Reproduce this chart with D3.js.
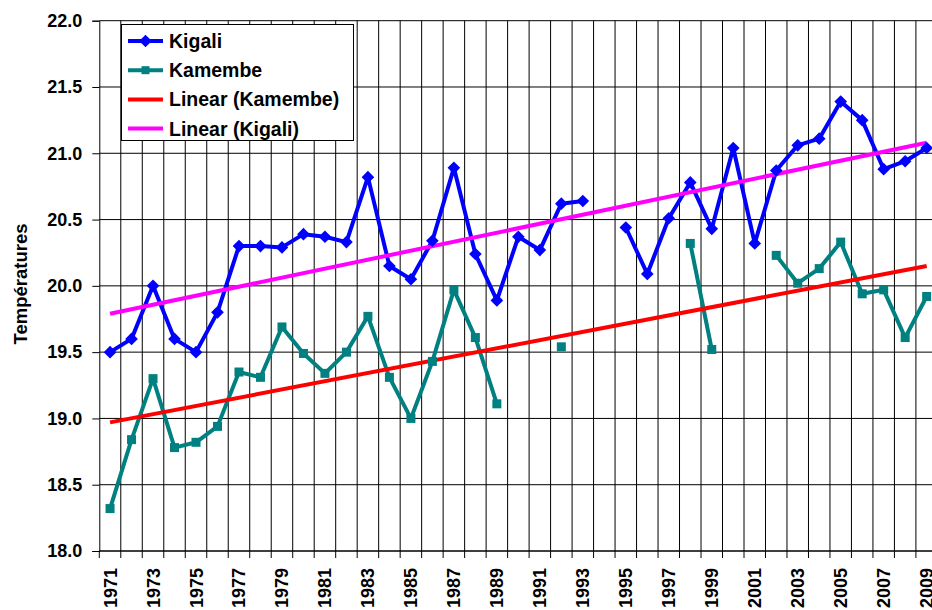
<!DOCTYPE html>
<meta charset="utf-8">
<title>Températures Kigali / Kamembe</title>
<style>
html, body { margin: 0; padding: 0; background: #fff; overflow: hidden; }
svg { display: block; }
.tick text, .label, .legend text {
  font-family: "Liberation Sans", Arial, Helvetica, sans-serif;
  font-weight: bold;
  fill: #000;
}
</style>
<svg width="932" height="610"></svg>
<script src="https://d3js.org/d3.v7.min.js"></script>
<script>

// years on the category axis
var years = d3.range(1971, 2010);

// annual mean temperatures (null = no data)
var kigali = [19.50, 19.60, 20.00, 19.60, 19.50, 19.80, 20.30, 20.30, 20.29, 20.39,
              20.37, 20.33, 20.82, 20.15, 20.05, 20.34, 20.89, 20.24, 19.89, 20.37,
              20.27, 20.62, 20.64, null, 20.44, 20.09, 20.51, 20.78, 20.43, 21.04,
              20.32, 20.87, 21.06, 21.11, 21.39, 21.25, 20.88, 20.94, 21.04];

var kamembe = [18.32, 18.84, 19.30, 18.78, 18.82, 18.94, 19.35, 19.31, 19.69, 19.49,
               19.34, 19.50, 19.77, 19.31, 19.00, 19.43, 19.97, 19.61, 19.11, null,
               null, 19.54, null, null, null, null, null, 20.32, 19.52, null,
               null, 20.23, 20.02, 20.13, 20.33, 19.94, 19.97, 19.61, 19.92];

// linear trend lines, start (1971) and end (2009) values
var trendYears = [1971, 2009];
var trendKamembe = [18.97, 20.15];
var trendKigali = [19.79, 21.08];

var yTicks = [18.0, 18.5, 19.0, 19.5, 20.0, 20.5, 21.0, 21.5, 22.0];
var labelYears = years.filter(function(y) { return y % 2 == 1; });

var svg = d3.select("svg");

var plotLeft = 99.3, band = 21.49, plotTop = 20.7, plotBottom = 551;

var x = d3.scaleBand()
    .domain(years)
    .range([plotLeft, plotLeft + band * years.length])
    .paddingInner(0).paddingOuter(0);

var y = d3.scaleLinear()
    .domain([18, 22])
    .range([plotBottom, plotTop]);

function cx(yr) { return x(yr) + x.bandwidth() / 2; }

// horizontal grid
svg.append("g")
  .selectAll("line")
  .data(yTicks)
  .enter().append("line")
    .attr("x1", plotLeft).attr("x2", 932)
    .attr("y1", function(d) { return y(d); })
    .attr("y2", function(d) { return y(d); })
    .attr("stroke", "#000")
    .attr("stroke-width", 1);

// vertical grid at category boundaries
svg.append("g")
  .selectAll("line")
  .data(years.slice(1))
  .enter().append("line")
    .attr("x1", function(d) { return x(d); })
    .attr("x2", function(d) { return x(d); })
    .attr("y1", plotTop).attr("y2", plotBottom)
    .attr("stroke", "#000")
    .attr("stroke-width", 1);

// y axis
var yAxis = svg.append("g")
    .attr("transform", "translate(" + plotLeft + ",0)")
    .call(d3.axisLeft(y).tickValues(yTicks).tickFormat(d3.format(".1f")).tickSize(7).tickPadding(10));
yAxis.select(".domain").attr("stroke", "#000");
yAxis.selectAll("text").style("font-size", "18px");

// x axis: ticks at every band boundary, labels every other year
var xAxis = svg.append("g")
    .attr("transform", "translate(0," + plotBottom + ")");
xAxis.append("line")
    .attr("x1", plotLeft).attr("x2", 932)
    .attr("y1", 0).attr("y2", 0)
    .attr("stroke", "#000");
xAxis.selectAll(".xt")
  .data(years.concat([2010]))
  .enter().append("line")
    .attr("class", "xt")
    .attr("x1", function(d) { return plotLeft + (d - 1971) * band; })
    .attr("x2", function(d) { return plotLeft + (d - 1971) * band; })
    .attr("y1", 0).attr("y2", 7)
    .attr("stroke", "#000");
xAxis.selectAll(".tick")
  .data(labelYears)
  .enter().append("g")
    .attr("class", "tick")
    .attr("transform", function(d) { return "translate(" + (cx(d) + 6.5) + ",17) rotate(-90)"; })
  .append("text")
    .attr("text-anchor", "end")
    .style("font-size", "18px")
    .text(function(d) { return d; });

// y axis title
svg.append("text")
    .attr("class", "label")
    .attr("transform", "translate(27,284) rotate(-90)")
    .attr("text-anchor", "middle")
    .style("font-size", "18.5px")
    .text("Températures");

function series(vals) {
  return years.map(function(yr, i) { return {year: yr, v: vals[i]}; });
}

var line = d3.line()
    .defined(function(d) { return d.v != null; })
    .x(function(d) { return cx(d.year); })
    .y(function(d) { return y(d.v); });

var kigaliData = series(kigali),
    kamembeData = series(kamembe);

svg.append("path")
    .datum(kigaliData)
    .attr("fill", "none")
    .attr("stroke", "#0000ff")
    .attr("stroke-width", 4)
    .attr("stroke-linejoin", "round")
    .attr("d", line);

svg.append("path")
    .datum(kamembeData)
    .attr("fill", "none")
    .attr("stroke", "#008080")
    .attr("stroke-width", 4)
    .attr("stroke-linejoin", "round")
    .attr("d", line);

// trend lines
function trend(vals) {
  return trendYears.map(function(yr, i) { return {year: yr, v: vals[i]}; });
}
svg.append("path")
    .datum(trend(trendKamembe))
    .attr("fill", "none")
    .attr("stroke", "#ff0000")
    .attr("stroke-width", 4)
    .attr("d", line);
svg.append("path")
    .datum(trend(trendKigali))
    .attr("fill", "none")
    .attr("stroke", "#ff00ff")
    .attr("stroke-width", 4)
    .attr("d", line);

// markers
var diamond = d3.symbol().type(d3.symbolSquare).size(80);
svg.append("g")
  .selectAll("path")
  .data(kigaliData.filter(function(d) { return d.v != null; }))
  .enter().append("path")
    .attr("d", diamond)
    .attr("transform", function(d) { return "translate(" + cx(d.year) + "," + y(d.v) + ") rotate(45)"; })
    .attr("fill", "#0000ff");

svg.append("g")
  .selectAll("rect")
  .data(kamembeData.filter(function(d) { return d.v != null; }))
  .enter().append("rect")
    .attr("x", function(d) { return cx(d.year) - 4.5; })
    .attr("y", function(d) { return y(d.v) - 4.5; })
    .attr("width", 9).attr("height", 9)
    .attr("fill", "#008080");

// legend
var legendItems = [
  {name: "Kigali", color: "#0000ff", marker: "diamond"},
  {name: "Kamembe", color: "#008080", marker: "square"},
  {name: "Linear (Kamembe)", color: "#ff0000", marker: null},
  {name: "Linear (Kigali)", color: "#ff00ff", marker: null}
];

var legend = svg.append("g").attr("class", "legend");
legend.append("rect")
    .attr("x", 121.5).attr("y", 24.5)
    .attr("width", 232).attr("height", 116)
    .attr("fill", "#fff")
    .attr("stroke", "#000");

var li = legend.selectAll(".item")
  .data(legendItems)
  .enter().append("g")
    .attr("class", "item")
    .attr("transform", function(d, i) { return "translate(0," + (41 + i * 29.2) + ")"; });

li.append("line")
    .attr("x1", 128).attr("x2", 163)
    .attr("stroke", function(d) { return d.color; })
    .attr("stroke-width", 4);

li.filter(function(d) { return d.marker == "diamond"; })
  .append("path")
    .attr("d", diamond)
    .attr("transform", "translate(145.5,0) rotate(45)")
    .attr("fill", function(d) { return d.color; });

li.filter(function(d) { return d.marker == "square"; })
  .append("rect")
    .attr("x", 141.5).attr("y", -4).attr("width", 8).attr("height", 8)
    .attr("fill", function(d) { return d.color; });

li.append("text")
    .attr("x", 169)
    .attr("dy", "0.36em")
    .style("font-size", "19.5px")
    .text(function(d) { return d.name; });

</script>
